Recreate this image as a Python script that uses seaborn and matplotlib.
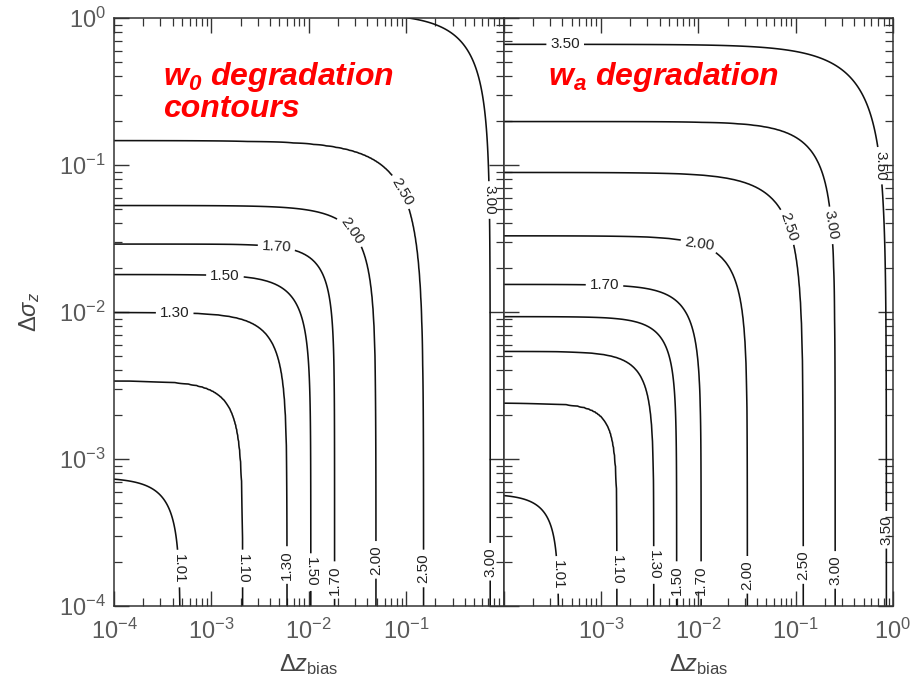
import numpy as np
import matplotlib
matplotlib.use("Agg")
import matplotlib.pyplot as plt
import seaborn as sns

# ---- contour levels and where each one runs (read in data units) ----
# vertical asymptote (Delta z_bias), horizontal asymptote (Delta sigma_z), knee softness (decades)
w0_levels = [1.01, 1.10, 1.30, 1.50, 1.70, 2.00, 2.50, 3.00]
w0_zbias = [4.8e-4, 2.1e-3, 6.0e-3, 1.05e-2, 1.84e-2, 4.9e-2, 0.151, 0.73]
w0_sigma = [7.5e-4, 3.4e-3, 9.95e-3, 1.8e-2, 2.9e-2, 5.3e-2, 0.146, 1.08]
w0_knee = [0.23, 0.23, 0.26, 0.25, 0.23, 0.30, 0.40, 0.35]

wa_levels = [1.01, 1.10, 1.30, 1.50, 1.70, 2.00, 2.50, 3.00, 3.50]
wa_zbias = [3.7e-4, 1.47e-3, 3.5e-3, 6.0e-3, 1.07e-2, 3.2e-2, 0.12, 0.254, 0.855]
wa_sigma = [5.8e-4, 2.4e-3, 5.4e-3, 9.3e-3, 1.54e-2, 3.3e-2, 8.9e-2, 0.197, 0.662]
wa_knee = [0.20, 0.18, 0.22, 0.22, 0.25, 0.29, 0.35, 0.32, 0.42]

# inline label anchors (Delta z_bias, Delta sigma_z) and text angles
w0_label_pos = [(4.8e-4, 1.8e-4), (2.1e-3, 1.8e-4), (6.0e-3, 1.9e-4), (1.05e-2, 1.7e-4),
                (1.84e-2, 1.5e-4), (4.9e-2, 2.06e-4), (0.151, 1.8e-4), (0.73, 2.0e-4),
                (4.2e-4, 9.95e-3), (1.38e-3, 1.8e-2), (4.7e-3, 2.9e-2), (2.8e-2, 3.6e-2),
                (0.098, 0.0676), (0.73, 0.0578)]
w0_label_rot = [-90, -90, 90, -90, 90, 90, 90, 90, 0, 0, -3, -55, -60, -90]

wa_label_pos = [(4.3e-4, 0.662), (0.855, 0.1), (0.254, 0.039), (0.115, 0.041),
                (0.0105, 0.031), (1.09e-3, 0.0154),
                (3.7e-4, 1.63e-4), (1.47e-3, 1.76e-4), (3.5e-3, 1.9e-4), (6.0e-3, 1.5e-4),
                (1.07e-2, 1.5e-4), (3.2e-2, 1.63e-4), (0.12, 1.9e-4), (0.254, 1.76e-4),
                (0.855, 3.3e-4)]
wa_label_rot = [0, -90, -80, -72, -8, 0, -90, -90, -90, 90, 90, 90, 90, 90, 90]

# axes ticks
dec_ticks = [1e-4, 1e-3, 1e-2, 1e-1, 1e0]
left_xticklabels = [r"$10^{-4}$", r"$10^{-3}$", r"$10^{-2}$", r"$10^{-1}$", ""]
right_xticklabels = ["", r"$10^{-3}$", r"$10^{-2}$", r"$10^{-1}$", r"$10^{0}$"]
yticklabels = [r"$10^{-4}$", r"$10^{-3}$", r"$10^{-2}$", r"$10^{-1}$", r"$10^{0}$"]

titles = [r"$\mathbfit{w}_{\mathbfit{0}}$ degradation" + "\ncontours",
          r"$\mathbfit{w}_{\mathbfit{a}}$ degradation"]

sns.set_theme(style="ticks")
plt.rcParams["font.family"] = ["Liberation Sans", "DejaVu Sans"]
plt.rcParams.update({
    "mathtext.fontset": "custom",
    "mathtext.rm": "Liberation Sans",
    "mathtext.it": "Liberation Sans:italic",
    "mathtext.bf": "Liberation Sans:bold",
    "mathtext.bfit": "Liberation Sans:italic:bold",
    "mathtext.sf": "Liberation Sans",
})

grid_u = np.linspace(-4.3, 0.3, 461)
grid_v = np.linspace(-4.3, 0.3, 461)
U, V = np.meshgrid(grid_u, grid_v)


def degradation_field(levels, zbias, sigma, knee):
    """Smooth field whose iso-lines are rounded L-shapes in log-log space."""
    lv = np.asarray(levels)
    uL = np.log10(zbias)[:, None, None]
    vL = np.log10(sigma)[:, None, None]
    k = np.asarray(knee)[:, None, None]
    a = (U[None] - uL) / k
    b = (V[None] - vL) / k
    m = np.maximum(a, b)
    s = k * (m + np.log(np.exp(a - m) + np.exp(b - m)))  # >0 : beyond that level
    n = len(lv)
    idx = np.clip(np.sum(s > 0, axis=0), 1, n - 1)
    lo = idx - 1
    s_lo = np.take_along_axis(s, lo[None], 0)[0]
    s_hi = np.take_along_axis(s, idx[None], 0)[0]
    return lv[lo] + (lv[idx] - lv[lo]) * s_lo / (s_lo - s_hi)


fig, axes = plt.subplots(1, 2, figsize=(9.17, 6.79), dpi=100, sharey=True)
fig.subplots_adjust(left=114 / 917, right=893 / 917, top=1 - 18 / 679,
                    bottom=1 - 606 / 679, wspace=0)

panels = [
    (w0_levels, w0_zbias, w0_sigma, w0_knee, w0_label_pos, w0_label_rot, left_xticklabels),
    (wa_levels, wa_zbias, wa_sigma, wa_knee, wa_label_pos, wa_label_rot, right_xticklabels),
]

tick_gray = "#5a5a5a"
for i, (ax, (lv, zb, sg, kn, lpos, lrot, xtl)) in enumerate(zip(axes, panels)):
    F = degradation_field(lv, zb, sg, kn)
    cs = ax.contour(10 ** U, 10 ** V, F, levels=lv, colors="#111111", linewidths=1.15)
    ax.set_xscale("log")
    ax.set_yscale("log")
    ax.set_xlim(1e-4, 1e0)
    ax.set_ylim(1e-4, 1e0)
    texts = ax.clabel(cs, lv, manual=lpos, inline=True, fmt="%.2f", fontsize=11,
                      colors="#222222", inline_spacing=4)
    for t, r in zip(texts, lrot):
        t.set_rotation(r)

    ax.set_xticks(dec_ticks)
    ax.set_xticklabels(xtl)
    ax.xaxis.set_minor_locator(matplotlib.ticker.LogLocator(base=10, subs=np.arange(2, 10)))
    ax.yaxis.set_minor_locator(matplotlib.ticker.LogLocator(base=10, subs=np.arange(2, 10)))
    ax.xaxis.set_minor_formatter(matplotlib.ticker.NullFormatter())
    ax.yaxis.set_minor_formatter(matplotlib.ticker.NullFormatter())
    ax.tick_params(which="both", direction="in", top=True, right=True,
                   colors="#333333", labelcolor=tick_gray, labelsize=17)
    ax.tick_params(which="major", length=11, width=1.0)
    ax.tick_params(which="minor", length=5.5, width=0.9)
    ax.tick_params(axis="x", pad=9)
    ax.tick_params(axis="y", pad=6)
    for sp in ax.spines.values():
        sp.set_color("#333333")
        sp.set_linewidth(1.1)
    ax.set_xlabel(r"$\Delta z_{\rm bias}$", fontsize=17, color="#444444", labelpad=6)
    ax.text(0.125 if i == 0 else 0.115, 0.928, titles[i], transform=ax.transAxes,
            color="#ff0000", fontsize=23, fontweight="bold", style="italic",
            va="top", ha="left", linespacing=1.0)

axes[0].set_yticks(dec_ticks)
axes[0].set_yticklabels(yticklabels)
axes[0].set_ylabel(r"$\Delta\sigma_z$", fontsize=17, color="#444444", labelpad=12)
axes[1].tick_params(axis="y", which="both", labelleft=False)

fig.savefig("out.png", dpi=100, facecolor="white")
